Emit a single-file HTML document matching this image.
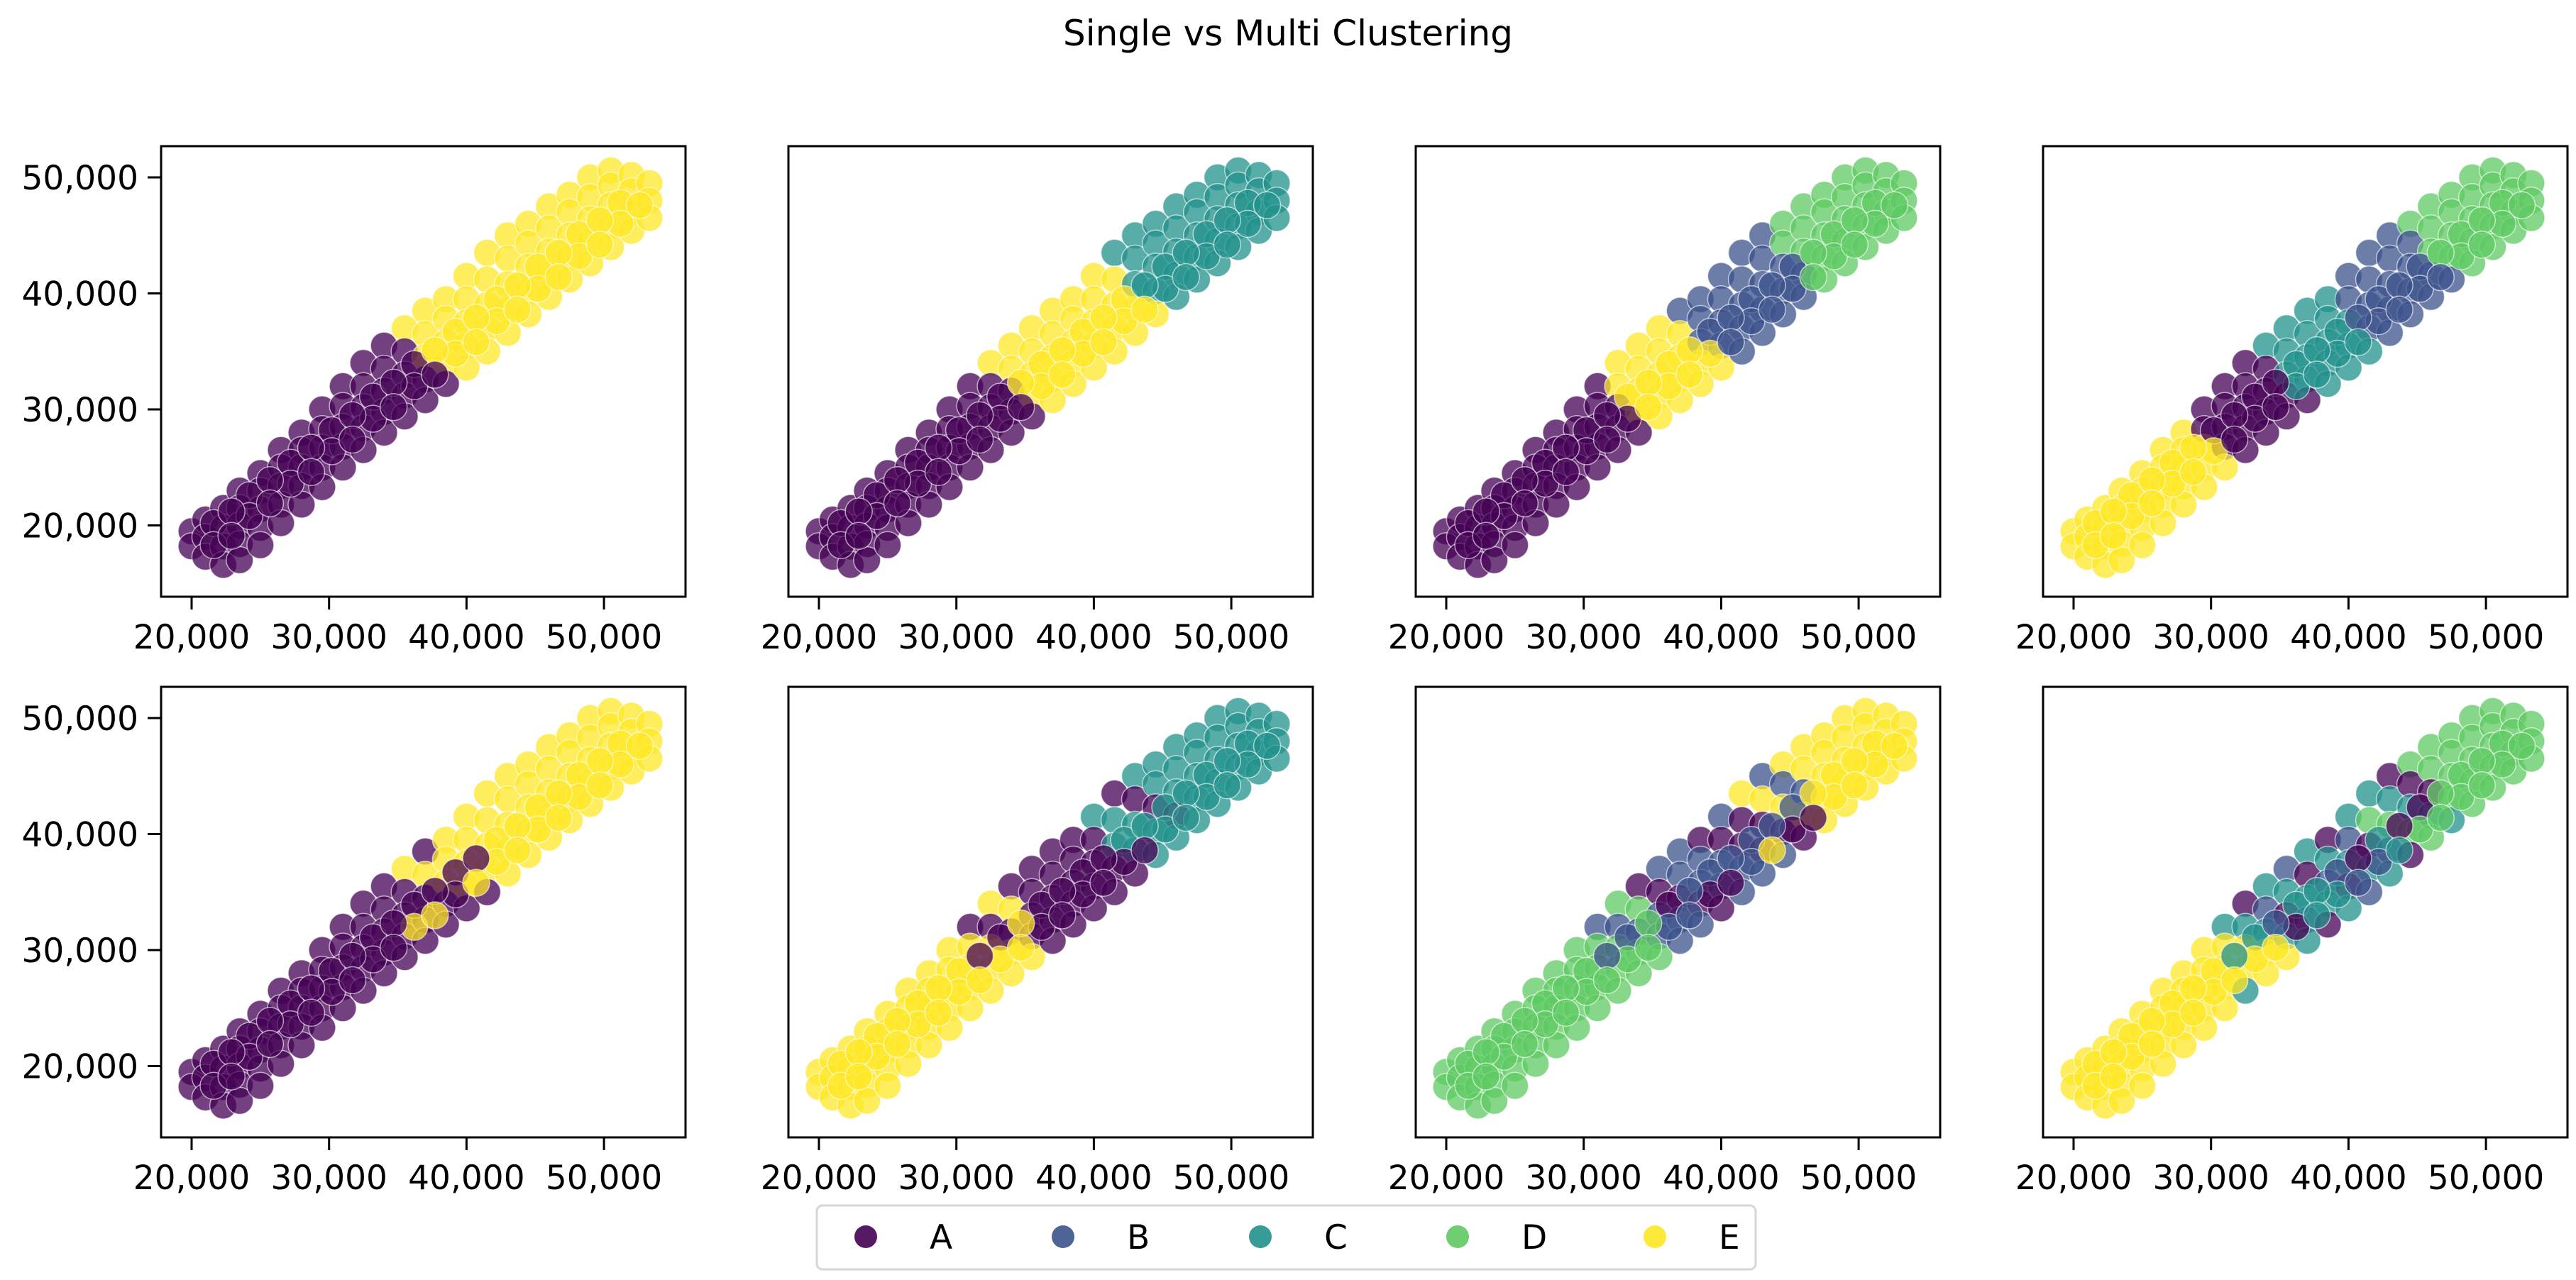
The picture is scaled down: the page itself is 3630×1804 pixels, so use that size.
<!DOCTYPE html>
<html><head><meta charset="utf-8"><title>Single vs Multi Clustering</title>
<style>
html,body{margin:0;padding:0;background:#fff;}
svg{display:block;font-family:"DejaVu Sans","Liberation Sans",sans-serif;}
</style></head>
<body>
<svg id="fig" width="3630" height="1804" viewBox="0 0 3630 1804" xmlns="http://www.w3.org/2000/svg">
<rect x="0" y="0" width="3630" height="1804" fill="#fff"/>
<text x="1815" y="64" font-size="50" text-anchor="middle" fill="#000">Single vs Multi Clustering</text>
<g id="panels"></g>
<g id="legend">
<rect x="1151" y="1699" width="1323" height="90" rx="8" fill="#fff" stroke="#d6d6d6" stroke-width="3"/>
</g>
</svg>
<script>
// shared dataset (values in thousands)
const xs = [20,20, 21,21,21, 22.3,22.3,22.3,22.3,
 23.5,23.5,23.5,23.5,23.5, 25,25,25,25,25, 26.5,26.5,26.5,26.5,26.5,
 28,28,28,28,28, 29.5,29.5,29.5,29.5,29.5, 31,31,31,31,31,
 32.5,32.5,32.5,32.5,32.5, 34,34,34,34,34, 35.5,35.5,35.5,35.5,35.5,
 37,37,37,37,37, 38.5,38.5,38.5,38.5,38.5, 40,40,40,40,40,
 41.5,41.5,41.5,41.5,41.5, 43,43,43,43,43, 44.5,44.5,44.5,44.5,44.5,
 46,46,46,46,46, 47.5,47.5,47.5,47.5,47.5, 49,49,49,49,49,
 50.5,50.5,50.5,50.5,50.5, 52,52,52,52, 53.3,53.3,53.3,
 21.6,24.2,27.2,30.2,33.2,36.2,39.2,42.2,45.2,48.2,51.2,
 21.6,24.2,27.2,30.2,33.2,36.2,39.2,42.2,45.2,48.2,51.2,
 22.9,25.7,28.7,31.7,34.7,37.7,40.7,43.7,46.7,49.7,
 22.9,25.7,28.7,31.7,34.7,37.7,40.7,43.7,46.7,49.7,52.6];
const ys = [19.5,18.2, 20.5,19,17.3, 21.5,19.8,18.2,16.6,
 23,21.5,20,18.4,17, 24.5,23,21.4,19.8,18.3, 26.5,25,23.4,21.8,20.2,
 28,26.5,25,23.4,21.8, 30,28.3,26.7,25,23.3, 32,30.3,28.5,26.8,25,
 34,32,30.2,28.4,26.5, 35.5,33.5,31.6,29.8,28, 37,35,33,31.2,29.4,
 38.5,36.5,34.5,32.6,30.8, 39.5,37.8,35.8,34,32.2, 41.5,39.5,37.5,35.5,33.6,
 43.5,41.2,39,37,35, 45,43,40.8,38.6,36.6, 46,44.3,42.3,40.2,38.2,
 47.5,45.6,43.6,41.6,39.7, 48.5,47,45,43.1,41.2, 50,48.3,46.4,44.5,42.6,
 50.6,49.3,47.6,45.8,44, 50.2,48.8,47,45.4, 49.5,48,46.5,
 20.2,22.6,25.4,28.2,31.1,33.9,36.7,39.5,42.3,45.1,47.8,
 18.3,20.8,23.6,26.4,29.2,32,34.8,37.6,40.4,43.2,46,
 21.2,23.9,26.7,29.5,32.3,35.1,37.9,40.7,43.5,46.3,
 19.1,21.9,24.6,27.4,30.2,33,35.8,38.6,41.4,44.2,47.6];
// cluster zones per panel: [max of x+y (thousands), category cycle]
const zones1 = [[71,'A'],[999,'E']];
const zones2 = [[66,'A'],[83,'E'],[999,'C']];
const zones3 = [[63,'A'],[74,'E'],[88,'B'],[999,'D']];
const zones4 = [[57,'E'],[68,'A'],[78,'C'],[89,'B'],[999,'D']];
const zones5 = [[68,'A'],[76,'AEA'],[80,'EAE'],[999,'E']];
const zones6 = [[60,'E'],[68,'EAE'],[80,'A'],[88,'ACC'],[999,'C']];
const zones7 = [[60,'D'],[68,'DBD'],[82,'BBA'],[90,'EAB'],[999,'E']];
const zones8 = [[58,'E'],[66,'ECE'],[82,'CBCA'],[90,'CDA'],[999,'D']];
const categories = ['A','B','C','D','E'];
const xTicks = [20000,30000,40000,50000];
const yTicks = [20000,30000,40000,50000];
const tickLabels = ['20,000','30,000','40,000','50,000'];

const colors = {A:'#440154',B:'#3b528b',C:'#21918c',D:'#5ec962',E:'#fde725'};
const NS='http://www.w3.org/2000/svg';
const allZones=[zones1,zones2,zones3,zones4,zones5,zones6,zones7,zones8];
const lefts=[227,1111,1995,2879], tops=[206,968], PW=739, PH=635;
function mk(t,a){const e=document.createElementNS(NS,t);for(const k in a)e.setAttribute(k,a[k]);return e;}
function xScale(v,left){return left+43+(v-20000)*0.01937;}
function yScale(v,top){return top+44+(50000-v)*0.01635;}
function catFor(zones,i,s){for(const z of zones){if(s<=z[0]){const p=z[1];return p[i%p.length];}}return 'A';}
const panels=document.getElementById('panels');
allZones.forEach((zones,pi)=>{
  const r=Math.floor(pi/4), c=pi%4, L=lefts[c], T=tops[r];
  const g=mk('g',{});
  
  
  panels.appendChild(g);
  const clipId='clip'+pi;
  const cp=mk('clipPath',{id:clipId});cp.appendChild(mk('rect',{x:L,y:T,width:PW,height:PH}));g.appendChild(cp);
  const pts=mk('g',{'clip-path':'url(#'+clipId+')'});g.appendChild(pts);
  xs.forEach((xv,i)=>{
    const yv=ys[i];const cat=catFor(zones,i,xv+yv);
    const pt=mk('circle',{cx:xScale(xv*1000,L).toFixed(1),cy:yScale(yv*1000,T).toFixed(1),r:19,fill:colors[cat],'fill-opacity':0.75,stroke:'#fff','stroke-opacity':0.6,'stroke-width':1.5});
    
    
    pts.appendChild(pt);
  });
  const frame=mk('rect',{x:L,y:T,width:PW,height:PH,fill:'none',stroke:'#000','stroke-width':3});
  
  
  g.appendChild(frame);
  xTicks.forEach((tv,k)=>{
    const px=xScale(tv,L);
    g.appendChild(mk('line',{x1:px,x2:px,y1:T+PH,y2:T+PH+18,stroke:'#000','stroke-width':3}));
    const t=mk('text',{x:px,y:T+PH+73,'font-size':47,'text-anchor':'middle',fill:'#000'});
    
    
    t.textContent=tickLabels[k];g.appendChild(t);
  });
  if(c===0){
    yTicks.forEach((tv,k)=>{
      const py=yScale(tv,T);
      g.appendChild(mk('line',{x1:L-19,x2:L,y1:py,y2:py,stroke:'#000','stroke-width':3}));
      const t=mk('text',{x:L-32,y:py+17,'font-size':47,'text-anchor':'end',fill:'#000'});
      
      
      t.textContent=tickLabels[k];g.appendChild(t);
    });
  }
});
const leg=document.getElementById('legend');
categories.forEach((cat,k)=>{
  const cx=1220+k*278;
  const m=mk('circle',{cx:cx,cy:1743,r:16,fill:colors[cat],'fill-opacity':0.9});
  
  
  leg.appendChild(m);
  const t=mk('text',{x:cx+90,y:1760,'font-size':47,fill:'#000'});
  
  
  t.textContent=cat;leg.appendChild(t);
});
</script>
</body></html>
